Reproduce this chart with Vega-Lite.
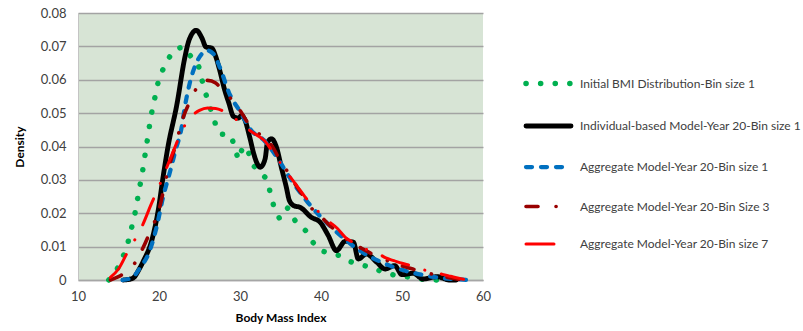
{
  "$schema": "https://vega.github.io/schema/vega-lite/v6.json",
  "autosize": {"type": "none"},
  "width": 405,
  "height": 267,
  "padding": {"left": 78, "top": 13, "right": 320, "bottom": 51},
  "background": "white",
  "config": {
    "view": {"fill": "#d7e4d5", "stroke": null},
    "font": "Lato",
    "axis": {"labelFont": "Lato", "titleFont": "Lato", "labelColor": "#404040", "titleColor": "#000000", "labelFontSize": 13, "titleFontSize": 12, "titleFontWeight": "bold", "ticks": false, "labelFlush": false},
    "legend": {"labelFont": "Lato"}
  },
  "data": {"values": [
    {"series": "Initial BMI Distribution-Bin size 1", "bmi": 13.8, "density": 0},
    {"series": "Initial BMI Distribution-Bin size 1", "bmi": 14.5, "density": 0.002},
    {"series": "Initial BMI Distribution-Bin size 1", "bmi": 15, "density": 0.004},
    {"series": "Initial BMI Distribution-Bin size 1", "bmi": 16, "density": 0.0095},
    {"series": "Initial BMI Distribution-Bin size 1", "bmi": 17, "density": 0.0195},
    {"series": "Initial BMI Distribution-Bin size 1", "bmi": 18, "density": 0.033},
    {"series": "Initial BMI Distribution-Bin size 1", "bmi": 19, "density": 0.049},
    {"series": "Initial BMI Distribution-Bin size 1", "bmi": 20, "density": 0.0605},
    {"series": "Initial BMI Distribution-Bin size 1", "bmi": 21, "density": 0.0658},
    {"series": "Initial BMI Distribution-Bin size 1", "bmi": 22, "density": 0.0692},
    {"series": "Initial BMI Distribution-Bin size 1", "bmi": 23, "density": 0.0698},
    {"series": "Initial BMI Distribution-Bin size 1", "bmi": 24, "density": 0.0668},
    {"series": "Initial BMI Distribution-Bin size 1", "bmi": 24.8, "density": 0.065},
    {"series": "Initial BMI Distribution-Bin size 1", "bmi": 25.5, "density": 0.058},
    {"series": "Initial BMI Distribution-Bin size 1", "bmi": 26, "density": 0.054},
    {"series": "Initial BMI Distribution-Bin size 1", "bmi": 27, "density": 0.0465},
    {"series": "Initial BMI Distribution-Bin size 1", "bmi": 27.5, "density": 0.0438},
    {"series": "Initial BMI Distribution-Bin size 1", "bmi": 28.9, "density": 0.0433},
    {"series": "Initial BMI Distribution-Bin size 1", "bmi": 29.8, "density": 0.036},
    {"series": "Initial BMI Distribution-Bin size 1", "bmi": 30.4, "density": 0.0402},
    {"series": "Initial BMI Distribution-Bin size 1", "bmi": 31, "density": 0.0386},
    {"series": "Initial BMI Distribution-Bin size 1", "bmi": 31.6, "density": 0.0344},
    {"series": "Initial BMI Distribution-Bin size 1", "bmi": 33.3, "density": 0.0303},
    {"series": "Initial BMI Distribution-Bin size 1", "bmi": 34.2, "density": 0.0218},
    {"series": "Initial BMI Distribution-Bin size 1", "bmi": 34.9, "density": 0.0183},
    {"series": "Initial BMI Distribution-Bin size 1", "bmi": 35.9, "density": 0.0216},
    {"series": "Initial BMI Distribution-Bin size 1", "bmi": 36.8, "density": 0.0178},
    {"series": "Initial BMI Distribution-Bin size 1", "bmi": 38.1, "density": 0.0148},
    {"series": "Initial BMI Distribution-Bin size 1", "bmi": 39, "density": 0.0113},
    {"series": "Initial BMI Distribution-Bin size 1", "bmi": 39.9, "density": 0.0088},
    {"series": "Initial BMI Distribution-Bin size 1", "bmi": 42.3, "density": 0.0073},
    {"series": "Initial BMI Distribution-Bin size 1", "bmi": 43.3, "density": 0.0058},
    {"series": "Initial BMI Distribution-Bin size 1", "bmi": 44.5, "density": 0.0048},
    {"series": "Initial BMI Distribution-Bin size 1", "bmi": 46.2, "density": 0.0038},
    {"series": "Initial BMI Distribution-Bin size 1", "bmi": 47.7, "density": 0.0023},
    {"series": "Initial BMI Distribution-Bin size 1", "bmi": 49.3, "density": 0.0013},
    {"series": "Initial BMI Distribution-Bin size 1", "bmi": 51.2, "density": 0.0008},
    {"series": "Initial BMI Distribution-Bin size 1", "bmi": 53, "density": 0},
    {"series": "Initial BMI Distribution-Bin size 1", "bmi": 55, "density": 0},

    {"series": "Individual-based Model-Year 20-Bin size 1", "bmi": 15.6, "density": 0},
    {"series": "Individual-based Model-Year 20-Bin size 1", "bmi": 16.5, "density": 0.0003},
    {"series": "Individual-based Model-Year 20-Bin size 1", "bmi": 17, "density": 0.001},
    {"series": "Individual-based Model-Year 20-Bin size 1", "bmi": 17.5, "density": 0.003},
    {"series": "Individual-based Model-Year 20-Bin size 1", "bmi": 18.1, "density": 0.0058},
    {"series": "Individual-based Model-Year 20-Bin size 1", "bmi": 19.1, "density": 0.0118},
    {"series": "Individual-based Model-Year 20-Bin size 1", "bmi": 19.9, "density": 0.0208},
    {"series": "Individual-based Model-Year 20-Bin size 1", "bmi": 20.5, "density": 0.0308},
    {"series": "Individual-based Model-Year 20-Bin size 1", "bmi": 21.1, "density": 0.0398},
    {"series": "Individual-based Model-Year 20-Bin size 1", "bmi": 22.2, "density": 0.0525},
    {"series": "Individual-based Model-Year 20-Bin size 1", "bmi": 23.2, "density": 0.0668},
    {"series": "Individual-based Model-Year 20-Bin size 1", "bmi": 23.7, "density": 0.0718},
    {"series": "Individual-based Model-Year 20-Bin size 1", "bmi": 24.6, "density": 0.0748},
    {"series": "Individual-based Model-Year 20-Bin size 1", "bmi": 25.3, "density": 0.0725},
    {"series": "Individual-based Model-Year 20-Bin size 1", "bmi": 25.8, "density": 0.0698},
    {"series": "Individual-based Model-Year 20-Bin size 1", "bmi": 26.5, "density": 0.0695},
    {"series": "Individual-based Model-Year 20-Bin size 1", "bmi": 27, "density": 0.067},
    {"series": "Individual-based Model-Year 20-Bin size 1", "bmi": 27.5, "density": 0.0628},
    {"series": "Individual-based Model-Year 20-Bin size 1", "bmi": 28.1, "density": 0.057},
    {"series": "Individual-based Model-Year 20-Bin size 1", "bmi": 28.6, "density": 0.0532},
    {"series": "Individual-based Model-Year 20-Bin size 1", "bmi": 29.2, "density": 0.049},
    {"series": "Individual-based Model-Year 20-Bin size 1", "bmi": 29.8, "density": 0.0485},
    {"series": "Individual-based Model-Year 20-Bin size 1", "bmi": 30.2, "density": 0.0493},
    {"series": "Individual-based Model-Year 20-Bin size 1", "bmi": 30.6, "density": 0.048},
    {"series": "Individual-based Model-Year 20-Bin size 1", "bmi": 31.2, "density": 0.0428},
    {"series": "Individual-based Model-Year 20-Bin size 1", "bmi": 31.7, "density": 0.0378},
    {"series": "Individual-based Model-Year 20-Bin size 1", "bmi": 32.1, "density": 0.035},
    {"series": "Individual-based Model-Year 20-Bin size 1", "bmi": 32.5, "density": 0.0338},
    {"series": "Individual-based Model-Year 20-Bin size 1", "bmi": 33.1, "density": 0.0363},
    {"series": "Individual-based Model-Year 20-Bin size 1", "bmi": 33.4, "density": 0.0413},
    {"series": "Individual-based Model-Year 20-Bin size 1", "bmi": 33.9, "density": 0.0423},
    {"series": "Individual-based Model-Year 20-Bin size 1", "bmi": 34.5, "density": 0.0398},
    {"series": "Individual-based Model-Year 20-Bin size 1", "bmi": 35.1, "density": 0.0338},
    {"series": "Individual-based Model-Year 20-Bin size 1", "bmi": 35.7, "density": 0.028},
    {"series": "Individual-based Model-Year 20-Bin size 1", "bmi": 36.1, "density": 0.0238},
    {"series": "Individual-based Model-Year 20-Bin size 1", "bmi": 36.7, "density": 0.0222},
    {"series": "Individual-based Model-Year 20-Bin size 1", "bmi": 37.4, "density": 0.0218},
    {"series": "Individual-based Model-Year 20-Bin size 1", "bmi": 38.8, "density": 0.0188},
    {"series": "Individual-based Model-Year 20-Bin size 1", "bmi": 39.9, "density": 0.0173},
    {"series": "Individual-based Model-Year 20-Bin size 1", "bmi": 40.9, "density": 0.0133},
    {"series": "Individual-based Model-Year 20-Bin size 1", "bmi": 41.9, "density": 0.0088},
    {"series": "Individual-based Model-Year 20-Bin size 1", "bmi": 43, "density": 0.0116},
    {"series": "Individual-based Model-Year 20-Bin size 1", "bmi": 44, "density": 0.0113},
    {"series": "Individual-based Model-Year 20-Bin size 1", "bmi": 44.6, "density": 0.0063},
    {"series": "Individual-based Model-Year 20-Bin size 1", "bmi": 45.6, "density": 0.0078},
    {"series": "Individual-based Model-Year 20-Bin size 1", "bmi": 46.9, "density": 0.0053},
    {"series": "Individual-based Model-Year 20-Bin size 1", "bmi": 47.9, "density": 0.0033},
    {"series": "Individual-based Model-Year 20-Bin size 1", "bmi": 49.1, "density": 0.0043},
    {"series": "Individual-based Model-Year 20-Bin size 1", "bmi": 50, "density": 0.0016},
    {"series": "Individual-based Model-Year 20-Bin size 1", "bmi": 51.4, "density": 0.002},
    {"series": "Individual-based Model-Year 20-Bin size 1", "bmi": 52.6, "density": 0.0003},
    {"series": "Individual-based Model-Year 20-Bin size 1", "bmi": 54.3, "density": 0.001},
    {"series": "Individual-based Model-Year 20-Bin size 1", "bmi": 55.9, "density": 0},
    {"series": "Individual-based Model-Year 20-Bin size 1", "bmi": 56.7, "density": 0},

    {"series": "Aggregate Model-Year 20-Bin size 1", "bmi": 15.5, "density": 0},
    {"series": "Aggregate Model-Year 20-Bin size 1", "bmi": 16.5, "density": 0.0005},
    {"series": "Aggregate Model-Year 20-Bin size 1", "bmi": 17.2, "density": 0.002},
    {"series": "Aggregate Model-Year 20-Bin size 1", "bmi": 17.7, "density": 0.0038},
    {"series": "Aggregate Model-Year 20-Bin size 1", "bmi": 18.7, "density": 0.0078},
    {"series": "Aggregate Model-Year 20-Bin size 1", "bmi": 19.7, "density": 0.0158},
    {"series": "Aggregate Model-Year 20-Bin size 1", "bmi": 20.5, "density": 0.0248},
    {"series": "Aggregate Model-Year 20-Bin size 1", "bmi": 21.4, "density": 0.0328},
    {"series": "Aggregate Model-Year 20-Bin size 1", "bmi": 22, "density": 0.0385},
    {"series": "Aggregate Model-Year 20-Bin size 1", "bmi": 22.8, "density": 0.0458},
    {"series": "Aggregate Model-Year 20-Bin size 1", "bmi": 23.2, "density": 0.052},
    {"series": "Aggregate Model-Year 20-Bin size 1", "bmi": 23.8, "density": 0.059},
    {"series": "Aggregate Model-Year 20-Bin size 1", "bmi": 24.7, "density": 0.0655},
    {"series": "Aggregate Model-Year 20-Bin size 1", "bmi": 25.3, "density": 0.0678},
    {"series": "Aggregate Model-Year 20-Bin size 1", "bmi": 25.9, "density": 0.0688},
    {"series": "Aggregate Model-Year 20-Bin size 1", "bmi": 26.7, "density": 0.0678},
    {"series": "Aggregate Model-Year 20-Bin size 1", "bmi": 27.5, "density": 0.0638},
    {"series": "Aggregate Model-Year 20-Bin size 1", "bmi": 28.7, "density": 0.0558},
    {"series": "Aggregate Model-Year 20-Bin size 1", "bmi": 30, "density": 0.0505},
    {"series": "Aggregate Model-Year 20-Bin size 1", "bmi": 31.4, "density": 0.0448},
    {"series": "Aggregate Model-Year 20-Bin size 1", "bmi": 32.9, "density": 0.042},
    {"series": "Aggregate Model-Year 20-Bin size 1", "bmi": 34.9, "density": 0.0355},
    {"series": "Aggregate Model-Year 20-Bin size 1", "bmi": 36.1, "density": 0.0308},
    {"series": "Aggregate Model-Year 20-Bin size 1", "bmi": 38.2, "density": 0.0238},
    {"series": "Aggregate Model-Year 20-Bin size 1", "bmi": 41.5, "density": 0.0153},
    {"series": "Aggregate Model-Year 20-Bin size 1", "bmi": 44.8, "density": 0.0088},
    {"series": "Aggregate Model-Year 20-Bin size 1", "bmi": 48.5, "density": 0.0043},
    {"series": "Aggregate Model-Year 20-Bin size 1", "bmi": 53, "density": 0.0013},
    {"series": "Aggregate Model-Year 20-Bin size 1", "bmi": 58.4, "density": 0},

    {"series": "Aggregate Model-Year 20-Bin Size 3", "bmi": 14, "density": 0},
    {"series": "Aggregate Model-Year 20-Bin Size 3", "bmi": 15, "density": 0.001},
    {"series": "Aggregate Model-Year 20-Bin Size 3", "bmi": 16, "density": 0.0025},
    {"series": "Aggregate Model-Year 20-Bin Size 3", "bmi": 17, "density": 0.005},
    {"series": "Aggregate Model-Year 20-Bin Size 3", "bmi": 18, "density": 0.0095},
    {"series": "Aggregate Model-Year 20-Bin Size 3", "bmi": 19, "density": 0.015},
    {"series": "Aggregate Model-Year 20-Bin Size 3", "bmi": 20, "density": 0.021},
    {"series": "Aggregate Model-Year 20-Bin Size 3", "bmi": 21, "density": 0.0318},
    {"series": "Aggregate Model-Year 20-Bin Size 3", "bmi": 22, "density": 0.04},
    {"series": "Aggregate Model-Year 20-Bin Size 3", "bmi": 23, "density": 0.0488},
    {"series": "Aggregate Model-Year 20-Bin Size 3", "bmi": 24, "density": 0.0543},
    {"series": "Aggregate Model-Year 20-Bin Size 3", "bmi": 25, "density": 0.0588},
    {"series": "Aggregate Model-Year 20-Bin Size 3", "bmi": 26, "density": 0.0598},
    {"series": "Aggregate Model-Year 20-Bin Size 3", "bmi": 27, "density": 0.059},
    {"series": "Aggregate Model-Year 20-Bin Size 3", "bmi": 28, "density": 0.0565},
    {"series": "Aggregate Model-Year 20-Bin Size 3", "bmi": 29, "density": 0.054},
    {"series": "Aggregate Model-Year 20-Bin Size 3", "bmi": 30, "density": 0.0508},
    {"series": "Aggregate Model-Year 20-Bin Size 3", "bmi": 31, "density": 0.047},
    {"series": "Aggregate Model-Year 20-Bin Size 3", "bmi": 32, "density": 0.0445},
    {"series": "Aggregate Model-Year 20-Bin Size 3", "bmi": 33, "density": 0.0425},
    {"series": "Aggregate Model-Year 20-Bin Size 3", "bmi": 34, "density": 0.04},
    {"series": "Aggregate Model-Year 20-Bin Size 3", "bmi": 35, "density": 0.0355},
    {"series": "Aggregate Model-Year 20-Bin Size 3", "bmi": 36, "density": 0.032},
    {"series": "Aggregate Model-Year 20-Bin Size 3", "bmi": 37, "density": 0.028},
    {"series": "Aggregate Model-Year 20-Bin Size 3", "bmi": 38, "density": 0.0245},
    {"series": "Aggregate Model-Year 20-Bin Size 3", "bmi": 39, "density": 0.021},
    {"series": "Aggregate Model-Year 20-Bin Size 3", "bmi": 40, "density": 0.019},
    {"series": "Aggregate Model-Year 20-Bin Size 3", "bmi": 41, "density": 0.0165},
    {"series": "Aggregate Model-Year 20-Bin Size 3", "bmi": 42, "density": 0.0145},
    {"series": "Aggregate Model-Year 20-Bin Size 3", "bmi": 43, "density": 0.0125},
    {"series": "Aggregate Model-Year 20-Bin Size 3", "bmi": 44, "density": 0.011},
    {"series": "Aggregate Model-Year 20-Bin Size 3", "bmi": 45, "density": 0.0095},
    {"series": "Aggregate Model-Year 20-Bin Size 3", "bmi": 46, "density": 0.0082},
    {"series": "Aggregate Model-Year 20-Bin Size 3", "bmi": 47, "density": 0.007},
    {"series": "Aggregate Model-Year 20-Bin Size 3", "bmi": 48, "density": 0.006},
    {"series": "Aggregate Model-Year 20-Bin Size 3", "bmi": 49, "density": 0.005},
    {"series": "Aggregate Model-Year 20-Bin Size 3", "bmi": 50, "density": 0.0042},
    {"series": "Aggregate Model-Year 20-Bin Size 3", "bmi": 51, "density": 0.0035},
    {"series": "Aggregate Model-Year 20-Bin Size 3", "bmi": 52, "density": 0.0028},
    {"series": "Aggregate Model-Year 20-Bin Size 3", "bmi": 53, "density": 0.0022},
    {"series": "Aggregate Model-Year 20-Bin Size 3", "bmi": 54, "density": 0.0016},
    {"series": "Aggregate Model-Year 20-Bin Size 3", "bmi": 55, "density": 0.0011},
    {"series": "Aggregate Model-Year 20-Bin Size 3", "bmi": 56, "density": 0.0006},
    {"series": "Aggregate Model-Year 20-Bin Size 3", "bmi": 57, "density": 0.0002},
    {"series": "Aggregate Model-Year 20-Bin Size 3", "bmi": 58, "density": 0},

    {"series": "Aggregate Model-Year 20-Bin size 7", "bmi": 14, "density": 0.0008},
    {"series": "Aggregate Model-Year 20-Bin size 7", "bmi": 15, "density": 0.0033},
    {"series": "Aggregate Model-Year 20-Bin size 7", "bmi": 16, "density": 0.0078},
    {"series": "Aggregate Model-Year 20-Bin size 7", "bmi": 17, "density": 0.012},
    {"series": "Aggregate Model-Year 20-Bin size 7", "bmi": 18, "density": 0.0166},
    {"series": "Aggregate Model-Year 20-Bin size 7", "bmi": 19, "density": 0.0225},
    {"series": "Aggregate Model-Year 20-Bin size 7", "bmi": 20, "density": 0.028},
    {"series": "Aggregate Model-Year 20-Bin size 7", "bmi": 21, "density": 0.034},
    {"series": "Aggregate Model-Year 20-Bin size 7", "bmi": 22, "density": 0.04},
    {"series": "Aggregate Model-Year 20-Bin size 7", "bmi": 23, "density": 0.0455},
    {"series": "Aggregate Model-Year 20-Bin size 7", "bmi": 24, "density": 0.049},
    {"series": "Aggregate Model-Year 20-Bin size 7", "bmi": 25, "density": 0.0508},
    {"series": "Aggregate Model-Year 20-Bin size 7", "bmi": 26, "density": 0.0515},
    {"series": "Aggregate Model-Year 20-Bin size 7", "bmi": 27, "density": 0.0514},
    {"series": "Aggregate Model-Year 20-Bin size 7", "bmi": 28, "density": 0.0505},
    {"series": "Aggregate Model-Year 20-Bin size 7", "bmi": 29, "density": 0.049},
    {"series": "Aggregate Model-Year 20-Bin size 7", "bmi": 30, "density": 0.0472},
    {"series": "Aggregate Model-Year 20-Bin size 7", "bmi": 31, "density": 0.0452},
    {"series": "Aggregate Model-Year 20-Bin size 7", "bmi": 32, "density": 0.0435},
    {"series": "Aggregate Model-Year 20-Bin size 7", "bmi": 33, "density": 0.0418},
    {"series": "Aggregate Model-Year 20-Bin size 7", "bmi": 34, "density": 0.0385},
    {"series": "Aggregate Model-Year 20-Bin size 7", "bmi": 35, "density": 0.035},
    {"series": "Aggregate Model-Year 20-Bin size 7", "bmi": 36, "density": 0.0315},
    {"series": "Aggregate Model-Year 20-Bin size 7", "bmi": 37, "density": 0.0283},
    {"series": "Aggregate Model-Year 20-Bin size 7", "bmi": 38, "density": 0.025},
    {"series": "Aggregate Model-Year 20-Bin size 7", "bmi": 39, "density": 0.022},
    {"series": "Aggregate Model-Year 20-Bin size 7", "bmi": 40, "density": 0.0198},
    {"series": "Aggregate Model-Year 20-Bin size 7", "bmi": 41, "density": 0.0175},
    {"series": "Aggregate Model-Year 20-Bin size 7", "bmi": 42, "density": 0.0155},
    {"series": "Aggregate Model-Year 20-Bin size 7", "bmi": 43, "density": 0.0128},
    {"series": "Aggregate Model-Year 20-Bin size 7", "bmi": 44, "density": 0.0112},
    {"series": "Aggregate Model-Year 20-Bin size 7", "bmi": 45, "density": 0.0098},
    {"series": "Aggregate Model-Year 20-Bin size 7", "bmi": 46, "density": 0.0088},
    {"series": "Aggregate Model-Year 20-Bin size 7", "bmi": 47, "density": 0.008},
    {"series": "Aggregate Model-Year 20-Bin size 7", "bmi": 48, "density": 0.0066},
    {"series": "Aggregate Model-Year 20-Bin size 7", "bmi": 49, "density": 0.0058},
    {"series": "Aggregate Model-Year 20-Bin size 7", "bmi": 50, "density": 0.005},
    {"series": "Aggregate Model-Year 20-Bin size 7", "bmi": 51, "density": 0.0044},
    {"series": "Aggregate Model-Year 20-Bin size 7", "bmi": 52, "density": 0.0037},
    {"series": "Aggregate Model-Year 20-Bin size 7", "bmi": 53, "density": 0.0028},
    {"series": "Aggregate Model-Year 20-Bin size 7", "bmi": 54, "density": 0.0024},
    {"series": "Aggregate Model-Year 20-Bin size 7", "bmi": 55, "density": 0.0017},
    {"series": "Aggregate Model-Year 20-Bin size 7", "bmi": 56, "density": 0.0011},
    {"series": "Aggregate Model-Year 20-Bin size 7", "bmi": 57, "density": 0.0005},
    {"series": "Aggregate Model-Year 20-Bin size 7", "bmi": 57.6, "density": 0.0002}
  ]},
  "encoding": {
    "x": {"field": "bmi", "type": "quantitative",
      "scale": {"domain": [10, 60], "nice": false, "zero": false},
      "axis": {"values": [10, 20, 30, 40, 50, 60], "grid": false, "domainColor": "#a6a6a6", "domainWidth": 1.5, "labelPadding": 10, "title": "Body Mass Index", "titlePadding": 9}},
    "y": {"field": "density", "type": "quantitative",
      "scale": {"domain": [0, 0.08], "nice": false},
      "axis": {"values": [0, 0.01, 0.02, 0.03, 0.04, 0.05, 0.06, 0.07, 0.08], "format": ".2~f", "grid": true, "gridColor": "#a3a3a3", "gridWidth": 1.5, "domainColor": "#c4c4c4", "domainWidth": 1, "labelPadding": 12, "title": "Density", "titlePadding": 14}},
    "color": {"field": "series", "type": "nominal",
      "scale": {"domain": ["Initial BMI Distribution-Bin size 1", "Individual-based Model-Year 20-Bin size 1", "Aggregate Model-Year 20-Bin size 1", "Aggregate Model-Year 20-Bin Size 3", "Aggregate Model-Year 20-Bin size 7"],
        "range": ["#00b050", "#000000", "#0070c0", "#990000", "#ff0000"]},
      "legend": {"orient": "none", "legendX": 445, "legendY": 45, "title": null, "symbolType": "stroke", "symbolSize": 2025, "labelFontSize": 12, "labelColor": "#404040", "labelOffset": 6, "rowPadding": 6, "labelLimit": 320,
        "encode": {"symbols": {"update": {"strokeCap": {"value": "round"}}}}}},
    "strokeDash": {"field": "series", "type": "nominal",
      "scale": {"domain": ["Initial BMI Distribution-Bin size 1", "Individual-based Model-Year 20-Bin size 1", "Aggregate Model-Year 20-Bin size 1", "Aggregate Model-Year 20-Bin Size 3", "Aggregate Model-Year 20-Bin size 7"],
        "range": [[0.1, 14.5], [1, 0], [6, 9], [12, 18, 0.1, 16], [28, 17, 0.1, 17]]}},
    "strokeWidth": {"field": "series", "type": "nominal",
      "scale": {"domain": ["Initial BMI Distribution-Bin size 1", "Individual-based Model-Year 20-Bin size 1", "Aggregate Model-Year 20-Bin size 1", "Aggregate Model-Year 20-Bin Size 3", "Aggregate Model-Year 20-Bin size 7"],
        "range": [5.5, 3, 4, 4, 4.5]}}
  },
  "layer": [
    {"transform": [{"filter": "datum.series === 'Initial BMI Distribution-Bin size 1'"}], "mark": {"type": "line", "interpolate": "linear", "strokeCap": "round"}},
    {"transform": [{"filter": "datum.series === 'Individual-based Model-Year 20-Bin size 1'"}], "mark": {"type": "line", "interpolate": "monotone", "strokeCap": "round", "strokeJoin": "round"}},
    {"transform": [{"filter": "datum.series === 'Aggregate Model-Year 20-Bin size 1'"}], "mark": {"type": "line", "interpolate": "monotone", "strokeCap": "round"}},
    {"transform": [{"filter": "datum.series === 'Aggregate Model-Year 20-Bin Size 3'"}], "mark": {"type": "line", "interpolate": "monotone", "strokeCap": "round"}},
    {"transform": [{"filter": "datum.series === 'Aggregate Model-Year 20-Bin size 7'"}], "mark": {"type": "line", "interpolate": "monotone", "strokeCap": "round"}}
  ]
}
